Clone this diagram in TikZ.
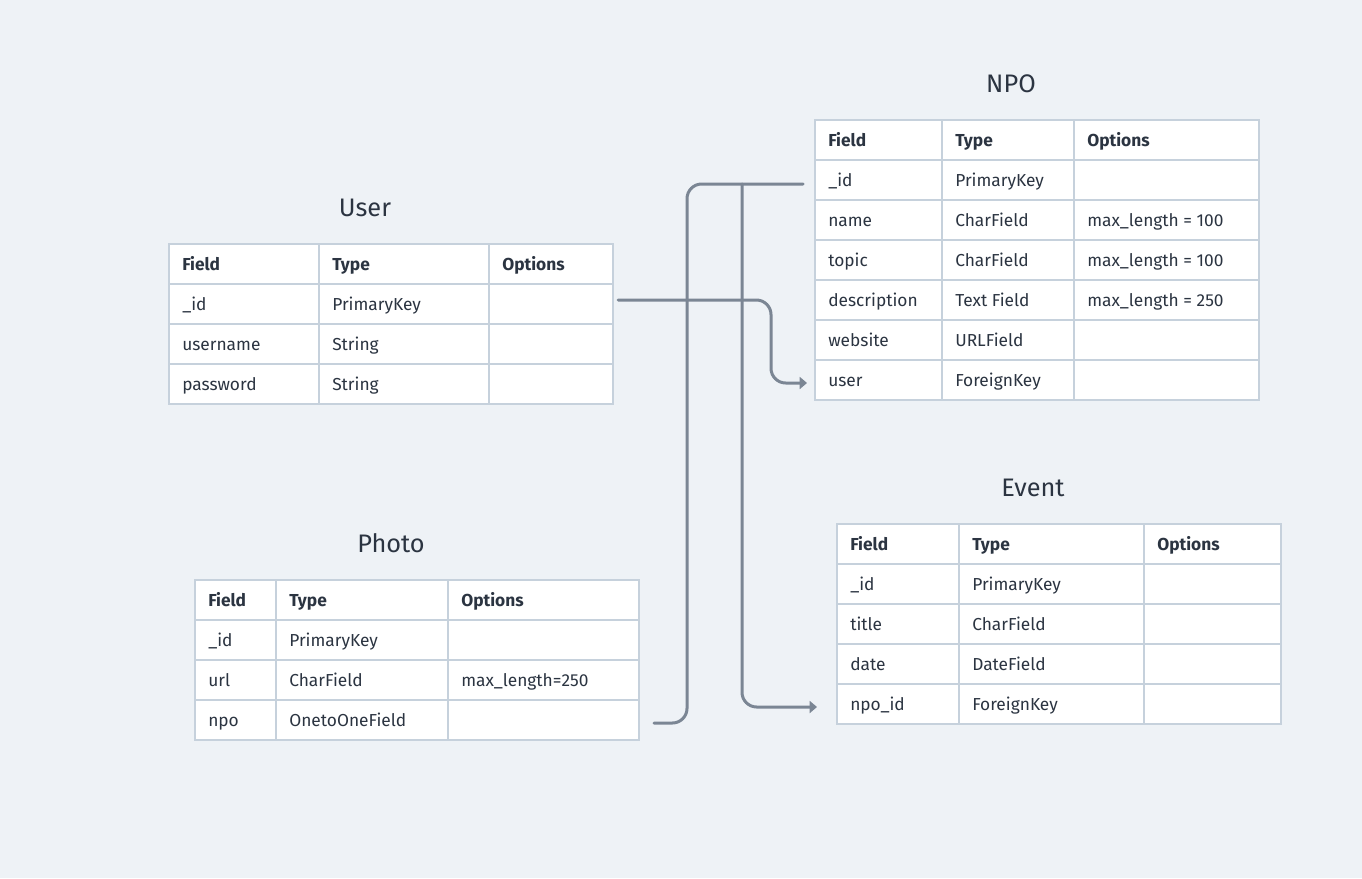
\documentclass[tikz,border=0pt]{standalone}
\usepackage{fontspec}
\setmainfont{Fira Sans}
\usetikzlibrary{arrows.meta,calc}
\definecolor{bgc}{HTML}{EEF2F6}
\definecolor{bdc}{HTML}{C6D1DC}
\definecolor{txc}{HTML}{2B3441}
\definecolor{lnc}{HTML}{7B8694}
\newcommand\settab[5]{\def\TXa{#1}\def\TXb{#2}\def\TXc{#3}\def\TXd{#4}\def\TY{#5}}
\newcommand\trow[5]{%
  \pgfmathsetmacro\RY{\TY+40*#2}%
  \node[cell,minimum width={(\TXb-\TXa)*0.75pt}] (#1-#2-1) at (\TXa,\RY) {};
  \node[cell,minimum width={(\TXc-\TXb)*0.75pt}] (#1-#2-2) at (\TXb,\RY) {};
  \node[cell,minimum width={(\TXd-\TXc)*0.75pt}] (#1-#2-3) at (\TXc,\RY) {};
  \node[ctext] (#1-#2-1t) at ([shift={(9.75pt,-5pt)}]#1-#2-1.west) {#3};
  \node[ctext] (#1-#2-2t) at ([shift={(9.75pt,-5pt)}]#1-#2-2.west) {#4};
  \node[ctext] (#1-#2-3t) at ([shift={(9.75pt,-5pt)}]#1-#2-3.west) {#5};
}
\tikzset{
  cell/.style={draw=bdc,fill=white,line width=1.5pt,anchor=north west,minimum height=30pt,inner sep=0pt,outer sep=0pt},
  ctext/.style={text=txc,anchor=base west,inner sep=0pt,font=\fontsize{13}{15}\selectfont},
  ttl/.style={text=txc,anchor=base,inner sep=0pt,font=\fontsize{19}{22}\selectfont},
  conn/.style={draw=lnc,line width=2.25pt,line cap=round,rounded corners=11pt},
  tip/.style={-{Triangle[length=5.5pt,width=9pt]}}
}
\begin{document}
\begin{tikzpicture}[x=0.75pt,y=-0.75pt]
\fill[bgc] (0,0) rectangle (1362,878);
\useasboundingbox (0,0) rectangle (1362,878);
% titles
\node[ttl] (usertitle) at (365,216) {User};
\node[ttl] (npotitle) at (1011,92) {NPO};
\node[ttl] (phototitle) at (391,552) {Photo};
\node[ttl] (eventtitle) at (1033,496) {Event};
% User
\settab{169}{319}{489}{613}{244}
\trow{user}{0}{\bfseries Field}{\bfseries Type}{\bfseries Options}
\trow{user}{1}{\_id}{PrimaryKey}{}
\trow{user}{2}{username}{String}{}
\trow{user}{3}{password}{String}{}
% NPO
\settab{815}{942}{1074}{1259}{120}
\trow{npo}{0}{\bfseries Field}{\bfseries Type}{\bfseries Options}
\trow{npo}{1}{\_id}{PrimaryKey}{}
\trow{npo}{2}{name}{CharField}{max\_length = 100}
\trow{npo}{3}{topic}{CharField}{max\_length = 100}
\trow{npo}{4}{description}{Text Field}{max\_length = 250}
\trow{npo}{5}{website}{URLField}{}
\trow{npo}{6}{user}{ForeignKey}{}
% Event
\settab{837}{959}{1144}{1281}{524}
\trow{event}{0}{\bfseries Field}{\bfseries Type}{\bfseries Options}
\trow{event}{1}{\_id}{PrimaryKey}{}
\trow{event}{2}{title}{CharField}{}
\trow{event}{3}{date}{DateField}{}
\trow{event}{4}{npo\_id}{ForeignKey}{}
% Photo
\settab{195}{276}{448}{639}{580}
\trow{photo}{0}{\bfseries Field}{\bfseries Type}{\bfseries Options}
\trow{photo}{1}{\_id}{PrimaryKey}{}
\trow{photo}{2}{url}{CharField}{max\_length=250}
\trow{photo}{3}{npo}{OnetoOneField}{}
% connectors
\coordinate (c1s) at ([shift={(5,-4)}]user-1-3.east);
\coordinate (c1e) at ([shift={(-8,3)}]npo-6-1.west);
\draw[conn,tip] (c1s) -- ($(c1s)+(153,0)$) |- (c1e);
\coordinate (c2s) at ([shift={(-12,4)}]npo-1-1.west);
\coordinate (c2e) at ([shift={(15,3)}]photo-3-3.east);
\draw[conn] (c2s) -| ([xshift=24.75pt]c2e) -- (c2e);
\coordinate (c3j) at ([xshift=-61*0.75pt]c2s);
\coordinate (c3e) at ([shift={(-20,3)}]event-4-1.west);
\draw[conn,tip] (c3j) |- (c3e);
\end{tikzpicture}
\end{document}
